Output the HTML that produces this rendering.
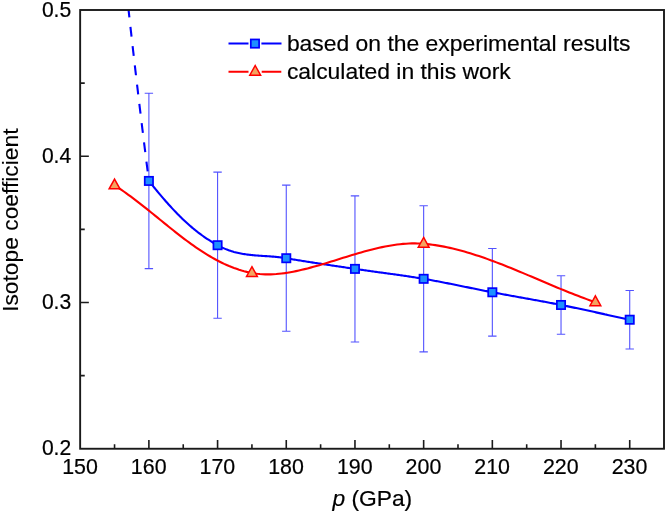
<!DOCTYPE html>
<html><head><meta charset="utf-8"><title>Isotope coefficient</title>
<style>html,body{margin:0;padding:0;background:#fff;width:666px;height:512px;overflow:hidden;font-family:"Liberation Sans",sans-serif}</style></head>
<body>
<svg width="666" height="512" viewBox="0 0 666 512" style="position:absolute;left:0;top:0;will-change:transform">
<rect width="666" height="512" fill="#fff"/>
<g stroke="#0000ff" stroke-opacity="0.68" stroke-width="1.1" fill="none">
<path d="M148.89,93.28V268.60M144.69,93.28H153.09M144.69,268.60H153.09"/>
<path d="M217.58,172.17V318.27M213.38,172.17H221.78M213.38,318.27H221.78"/>
<path d="M286.27,185.17V331.27M282.07,185.17H290.47M282.07,331.27H290.47"/>
<path d="M354.96,195.84V341.94M350.76,195.84H359.16M350.76,341.94H359.16"/>
<path d="M423.65,205.77V351.87M419.45,205.77H427.85M419.45,351.87H427.85"/>
<path d="M492.34,248.44V336.10M488.14,248.44H496.54M488.14,336.10H496.54"/>
<path d="M561.03,275.76V334.20M556.83,275.76H565.23M556.83,334.20H565.23"/>
<path d="M629.72,290.51V348.95M625.52,290.51H633.92M625.52,348.95H633.92"/>
</g>
<path d="M148.89,180.94 L148.52,178.04 L148.15,175.14 L147.78,172.25 L147.41,169.35 L147.05,166.45 L146.68,163.55 L146.32,160.66 L145.95,157.76 L145.59,154.86 L145.23,151.96 L144.87,149.07 L144.50,146.17 L144.15,143.27 L143.79,140.38 L143.43,137.48 L143.07,134.58 L142.72,131.68 L142.36,128.79 L142.01,125.89 L141.65,122.99 L141.30,120.10 L140.95,117.20 L140.60,114.30 L140.25,111.40 L139.90,108.51 L139.55,105.61 L139.21,102.71 L138.86,99.81 L138.51,96.92 L138.17,94.02 L137.83,91.12 L137.48,88.23 L137.14,85.33 L136.80,82.43 L136.46,79.53 L136.12,76.64 L135.78,73.74 L135.45,70.84 L135.11,67.94 L134.78,65.05 L134.44,62.15 L134.11,59.25 L133.78,56.36 L133.44,53.46 L133.11,50.56 L132.78,47.66 L132.45,44.77 L132.13,41.87 L131.80,38.97 L131.47,36.08 L131.15,33.18 L130.82,30.28 L130.50,27.38 L130.18,24.49 L129.85,21.59 L129.53,18.69 L129.21,15.79 L128.89,12.90 L128.58,10.00" stroke="#0000ff" stroke-width="2.1" fill="none" stroke-dasharray="10 9.38" stroke-dashoffset="9.8"/>
<path d="M148.89,180.94 L150.29,182.69 L151.67,184.41 L153.04,186.10 L154.39,187.76 L155.73,189.40 L157.06,191.00 L158.36,192.57 L159.66,194.12 L160.94,195.64 L162.21,197.13 L163.47,198.59 L164.72,200.03 L165.95,201.44 L167.17,202.82 L168.39,204.18 L169.59,205.51 L170.78,206.82 L171.96,208.11 L173.14,209.37 L174.30,210.61 L175.46,211.82 L176.61,213.02 L177.75,214.19 L178.89,215.34 L180.02,216.46 L181.14,217.57 L182.26,218.66 L183.37,219.73 L184.48,220.77 L185.58,221.80 L186.68,222.81 L187.78,223.80 L188.87,224.78 L189.96,225.73 L191.05,226.67 L192.14,227.60 L193.22,228.50 L194.30,229.39 L195.39,230.27 L196.47,231.13 L197.55,231.98 L198.64,232.81 L199.72,233.63 L200.81,234.43 L201.90,235.23 L202.99,236.01 L204.08,236.78 L205.18,237.53 L206.28,238.28 L207.39,239.01 L208.49,239.74 L209.61,240.45 L210.73,241.16 L211.85,241.86 L212.98,242.54 L214.12,243.23 L215.27,243.90 L216.42,244.56 L217.58,245.22 L217.58,245.22 L218.74,245.86 L219.91,246.47 L221.07,247.06 L222.24,247.62 L223.40,248.15 L224.57,248.66 L225.73,249.14 L226.89,249.60 L228.06,250.04 L229.22,250.45 L230.39,250.84 L231.55,251.21 L232.72,251.56 L233.88,251.90 L235.04,252.21 L236.21,252.50 L237.37,252.78 L238.54,253.04 L239.70,253.29 L240.86,253.52 L242.03,253.73 L243.19,253.93 L244.36,254.12 L245.52,254.30 L246.69,254.46 L247.85,254.61 L249.01,254.76 L250.18,254.89 L251.34,255.01 L252.51,255.13 L253.67,255.24 L254.84,255.34 L256.00,255.44 L257.16,255.53 L258.33,255.62 L259.49,255.70 L260.66,255.78 L261.82,255.86 L262.99,255.94 L264.15,256.01 L265.31,256.09 L266.48,256.16 L267.64,256.24 L268.81,256.32 L269.97,256.40 L271.13,256.49 L272.30,256.58 L273.46,256.67 L274.63,256.77 L275.79,256.87 L276.96,256.99 L278.12,257.11 L279.28,257.24 L280.45,257.37 L281.61,257.52 L282.78,257.68 L283.94,257.85 L285.11,258.03 L286.27,258.22 L286.27,258.22 L287.43,258.42 L288.60,258.62 L289.76,258.82 L290.93,259.02 L292.09,259.21 L293.26,259.41 L294.42,259.60 L295.58,259.79 L296.75,259.99 L297.91,260.18 L299.08,260.37 L300.24,260.56 L301.41,260.74 L302.57,260.93 L303.73,261.12 L304.90,261.30 L306.06,261.49 L307.23,261.67 L308.39,261.86 L309.55,262.04 L310.72,262.22 L311.88,262.40 L313.05,262.59 L314.21,262.77 L315.38,262.95 L316.54,263.12 L317.70,263.30 L318.87,263.48 L320.03,263.66 L321.20,263.84 L322.36,264.01 L323.53,264.19 L324.69,264.37 L325.85,264.54 L327.02,264.72 L328.18,264.89 L329.35,265.07 L330.51,265.24 L331.68,265.42 L332.84,265.59 L334.00,265.76 L335.17,265.94 L336.33,266.11 L337.50,266.29 L338.66,266.46 L339.82,266.63 L340.99,266.81 L342.15,266.98 L343.32,267.15 L344.48,267.33 L345.65,267.50 L346.81,267.67 L347.97,267.85 L349.14,268.02 L350.30,268.19 L351.47,268.37 L352.63,268.54 L353.80,268.71 L354.96,268.89 L354.96,268.89 L356.12,269.06 L357.29,269.24 L358.45,269.41 L359.62,269.58 L360.78,269.75 L361.95,269.91 L363.11,270.08 L364.27,270.25 L365.44,270.41 L366.60,270.57 L367.77,270.74 L368.93,270.90 L370.10,271.06 L371.26,271.22 L372.42,271.38 L373.59,271.54 L374.75,271.70 L375.92,271.86 L377.08,272.02 L378.24,272.18 L379.41,272.34 L380.57,272.49 L381.74,272.65 L382.90,272.81 L384.07,272.97 L385.23,273.13 L386.39,273.29 L387.56,273.44 L388.72,273.60 L389.89,273.76 L391.05,273.92 L392.22,274.08 L393.38,274.24 L394.54,274.41 L395.71,274.57 L396.87,274.73 L398.04,274.89 L399.20,275.06 L400.37,275.22 L401.53,275.39 L402.69,275.56 L403.86,275.73 L405.02,275.90 L406.19,276.07 L407.35,276.24 L408.51,276.41 L409.68,276.59 L410.84,276.77 L412.01,276.94 L413.17,277.12 L414.34,277.31 L415.50,277.49 L416.66,277.67 L417.83,277.86 L418.99,278.05 L420.16,278.24 L421.32,278.43 L422.49,278.63 L423.65,278.82 L423.65,278.82 L424.81,279.02 L425.98,279.22 L427.14,279.43 L428.31,279.63 L429.47,279.84 L430.64,280.05 L431.80,280.26 L432.96,280.47 L434.13,280.69 L435.29,280.91 L436.46,281.12 L437.62,281.34 L438.79,281.56 L439.95,281.79 L441.11,282.01 L442.28,282.24 L443.44,282.46 L444.61,282.69 L445.77,282.92 L446.93,283.15 L448.10,283.38 L449.26,283.61 L450.43,283.84 L451.59,284.08 L452.76,284.31 L453.92,284.55 L455.08,284.78 L456.25,285.02 L457.41,285.25 L458.58,285.49 L459.74,285.73 L460.91,285.96 L462.07,286.20 L463.23,286.44 L464.40,286.68 L465.56,286.92 L466.73,287.15 L467.89,287.39 L469.06,287.63 L470.22,287.87 L471.38,288.10 L472.55,288.34 L473.71,288.58 L474.88,288.82 L476.04,289.05 L477.20,289.29 L478.37,289.52 L479.53,289.75 L480.70,289.99 L481.86,290.22 L483.03,290.45 L484.19,290.68 L485.35,290.91 L486.52,291.14 L487.68,291.37 L488.85,291.59 L490.01,291.82 L491.18,292.04 L492.34,292.27 L492.34,292.27 L493.50,292.49 L494.67,292.71 L495.83,292.93 L497.00,293.14 L498.16,293.36 L499.33,293.58 L500.49,293.79 L501.65,294.01 L502.82,294.22 L503.98,294.44 L505.15,294.65 L506.31,294.86 L507.48,295.08 L508.64,295.29 L509.80,295.50 L510.97,295.71 L512.13,295.92 L513.30,296.13 L514.46,296.34 L515.62,296.55 L516.79,296.76 L517.95,296.97 L519.12,297.18 L520.28,297.39 L521.45,297.60 L522.61,297.81 L523.77,298.01 L524.94,298.22 L526.10,298.43 L527.27,298.64 L528.43,298.85 L529.60,299.06 L530.76,299.27 L531.92,299.48 L533.09,299.69 L534.25,299.91 L535.42,300.12 L536.58,300.33 L537.75,300.54 L538.91,300.76 L540.07,300.97 L541.24,301.19 L542.40,301.40 L543.57,301.62 L544.73,301.83 L545.89,302.05 L547.06,302.27 L548.22,302.49 L549.39,302.71 L550.55,302.93 L551.72,303.15 L552.88,303.38 L554.04,303.60 L555.21,303.83 L556.37,304.06 L557.54,304.28 L558.70,304.51 L559.87,304.74 L561.03,304.98 L561.03,304.98 L562.19,305.21 L563.36,305.44 L564.52,305.68 L565.69,305.92 L566.85,306.15 L568.02,306.39 L569.18,306.63 L570.34,306.87 L571.51,307.11 L572.67,307.36 L573.84,307.60 L575.00,307.85 L576.17,308.09 L577.33,308.34 L578.49,308.58 L579.66,308.83 L580.82,309.08 L581.99,309.33 L583.15,309.58 L584.31,309.83 L585.48,310.08 L586.64,310.33 L587.81,310.58 L588.97,310.83 L590.14,311.08 L591.30,311.34 L592.46,311.59 L593.63,311.84 L594.79,312.10 L595.96,312.35 L597.12,312.61 L598.29,312.86 L599.45,313.12 L600.61,313.37 L601.78,313.63 L602.94,313.88 L604.11,314.14 L605.27,314.40 L606.44,314.65 L607.60,314.91 L608.76,315.16 L609.93,315.42 L611.09,315.68 L612.26,315.93 L613.42,316.19 L614.58,316.44 L615.75,316.70 L616.91,316.95 L618.08,317.21 L619.24,317.46 L620.41,317.71 L621.57,317.97 L622.73,318.22 L623.90,318.47 L625.06,318.73 L626.23,318.98 L627.39,319.23 L628.56,319.48 L629.72,319.73" stroke="#0000ff" stroke-width="2.1" fill="none"/>
<path d="M114.55,185.32 L116.87,186.82 L119.18,188.36 L121.49,189.92 L123.79,191.51 L126.07,193.13 L128.36,194.78 L130.63,196.45 L132.90,198.13 L135.16,199.84 L137.42,201.57 L139.67,203.32 L141.92,205.07 L144.17,206.85 L146.41,208.63 L148.64,210.42 L150.88,212.22 L153.11,214.03 L155.35,215.84 L157.58,217.66 L159.81,219.47 L162.04,221.29 L164.27,223.10 L166.51,224.91 L168.74,226.71 L170.98,228.51 L173.22,230.30 L175.46,232.07 L177.71,233.84 L179.96,235.59 L182.22,237.32 L184.48,239.04 L186.74,240.73 L189.02,242.41 L191.30,244.06 L193.58,245.69 L195.88,247.29 L198.18,248.86 L200.49,250.41 L202.81,251.92 L205.14,253.40 L207.48,254.85 L209.83,256.26 L212.20,257.63 L214.57,258.96 L216.96,260.25 L219.35,261.49 L221.77,262.69 L224.19,263.85 L226.63,264.95 L229.09,266.01 L231.56,267.01 L234.04,267.97 L236.54,268.86 L239.06,269.70 L241.60,270.48 L244.15,271.20 L246.72,271.86 L249.32,272.45 L251.93,272.98 L251.93,272.98 L254.55,273.43 L257.20,273.79 L259.87,274.06 L262.56,274.25 L265.26,274.36 L267.98,274.40 L270.72,274.36 L273.47,274.24 L276.24,274.06 L279.02,273.81 L281.82,273.50 L284.64,273.14 L287.46,272.71 L290.30,272.23 L293.16,271.70 L296.02,271.12 L298.90,270.50 L301.79,269.84 L304.68,269.14 L307.59,268.40 L310.51,267.63 L313.44,266.83 L316.38,266.01 L319.32,265.16 L322.27,264.29 L325.23,263.40 L328.20,262.50 L331.17,261.58 L334.15,260.66 L337.13,259.73 L340.12,258.80 L343.11,257.87 L346.11,256.94 L349.11,256.02 L352.11,255.11 L355.11,254.21 L358.12,253.32 L361.13,252.46 L364.13,251.61 L367.14,250.79 L370.15,250.00 L373.16,249.23 L376.16,248.50 L379.16,247.81 L382.16,247.15 L385.16,246.54 L388.16,245.97 L391.15,245.45 L394.13,244.98 L397.12,244.57 L400.09,244.21 L403.06,243.91 L406.03,243.68 L408.98,243.51 L411.93,243.41 L414.88,243.38 L417.81,243.43 L420.73,243.55 L423.65,243.76 L423.65,243.76 L426.56,244.03 L429.47,244.35 L432.38,244.72 L435.29,245.14 L438.20,245.60 L441.11,246.11 L444.02,246.65 L446.93,247.24 L449.85,247.87 L452.76,248.54 L455.67,249.25 L458.58,249.99 L461.49,250.77 L464.40,251.58 L467.31,252.42 L470.22,253.29 L473.13,254.20 L476.04,255.13 L478.95,256.09 L481.86,257.08 L484.77,258.09 L487.68,259.12 L490.59,260.18 L493.50,261.26 L496.41,262.36 L499.33,263.47 L502.24,264.60 L505.15,265.75 L508.06,266.91 L510.97,268.09 L513.88,269.28 L516.79,270.48 L519.70,271.69 L522.61,272.90 L525.52,274.13 L528.43,275.35 L531.34,276.59 L534.25,277.82 L537.16,279.06 L540.07,280.30 L542.98,281.54 L545.89,282.77 L548.81,284.00 L551.72,285.23 L554.63,286.45 L557.54,287.66 L560.45,288.87 L563.36,290.06 L566.27,291.25 L569.18,292.42 L572.09,293.58 L575.00,294.72 L577.91,295.85 L580.82,296.96 L583.73,298.05 L586.64,299.12 L589.55,300.17 L592.46,301.20 L595.38,302.20" stroke="#ff0000" stroke-width="2.1" fill="none"/>
<rect x="144.74" y="176.79" width="8.3" height="8.3" fill="#1e90ff" stroke="#0000ff" stroke-width="1.7"/>
<rect x="213.43" y="241.07" width="8.3" height="8.3" fill="#1e90ff" stroke="#0000ff" stroke-width="1.7"/>
<rect x="282.12" y="254.07" width="8.3" height="8.3" fill="#1e90ff" stroke="#0000ff" stroke-width="1.7"/>
<rect x="350.81" y="264.74" width="8.3" height="8.3" fill="#1e90ff" stroke="#0000ff" stroke-width="1.7"/>
<rect x="419.50" y="274.67" width="8.3" height="8.3" fill="#1e90ff" stroke="#0000ff" stroke-width="1.7"/>
<rect x="488.19" y="288.12" width="8.3" height="8.3" fill="#1e90ff" stroke="#0000ff" stroke-width="1.7"/>
<rect x="556.88" y="300.83" width="8.3" height="8.3" fill="#1e90ff" stroke="#0000ff" stroke-width="1.7"/>
<rect x="625.57" y="315.58" width="8.3" height="8.3" fill="#1e90ff" stroke="#0000ff" stroke-width="1.7"/>
<path d="M114.55,179.02L119.95,188.77L109.14,188.77Z" fill="#f4a460" stroke="#ff0000" stroke-width="1.5" stroke-linejoin="miter"/>
<path d="M251.93,266.68L257.32,276.43L246.53,276.43Z" fill="#f4a460" stroke="#ff0000" stroke-width="1.5" stroke-linejoin="miter"/>
<path d="M423.65,237.46L429.05,247.21L418.25,247.21Z" fill="#f4a460" stroke="#ff0000" stroke-width="1.5" stroke-linejoin="miter"/>
<path d="M595.38,295.90L600.77,305.65L589.98,305.65Z" fill="#f4a460" stroke="#ff0000" stroke-width="1.5" stroke-linejoin="miter"/>
<g stroke="#1a1a1a" stroke-width="1.9" fill="none">
<rect x="80.15" y="10.0" width="583.85" height="438.75"/>
<path d="M114.55,448.75v-4.6M148.89,448.75v-8.7M183.24,448.75v-4.6M217.58,448.75v-8.7M251.93,448.75v-4.6M286.27,448.75v-8.7M320.62,448.75v-4.6M354.96,448.75v-8.7M389.31,448.75v-4.6M423.65,448.75v-8.7M457.99,448.75v-4.6M492.34,448.75v-8.7M526.69,448.75v-4.6M561.03,448.75v-8.7M595.38,448.75v-4.6M629.72,448.75v-8.7M80.15,375.62h4.6M80.15,302.50h8.7M80.15,229.38h4.6M80.15,156.25h8.7M80.15,83.13h4.6" stroke-width="1.6"/>
</g>
<g font-family="'Liberation Sans', sans-serif" fill="#000" stroke="#000" stroke-width="0.2">
<text transform="translate(80.00,473.9) scale(1,1.03)" font-size="21.4" text-anchor="middle">150</text>
<text transform="translate(148.69,473.9) scale(1,1.03)" font-size="21.4" text-anchor="middle">160</text>
<text transform="translate(217.38,473.9) scale(1,1.03)" font-size="21.4" text-anchor="middle">170</text>
<text transform="translate(286.07,473.9) scale(1,1.03)" font-size="21.4" text-anchor="middle">180</text>
<text transform="translate(354.76,473.9) scale(1,1.03)" font-size="21.4" text-anchor="middle">190</text>
<text transform="translate(423.45,473.9) scale(1,1.03)" font-size="21.4" text-anchor="middle">200</text>
<text transform="translate(492.14,473.9) scale(1,1.03)" font-size="21.4" text-anchor="middle">210</text>
<text transform="translate(560.83,473.9) scale(1,1.03)" font-size="21.4" text-anchor="middle">220</text>
<text transform="translate(629.52,473.9) scale(1,1.03)" font-size="21.4" text-anchor="middle">230</text>
<text transform="translate(71.2,455.45) scale(1,1.03)" font-size="21.1" text-anchor="end">0.2</text>
<text transform="translate(71.2,309.20) scale(1,1.03)" font-size="21.1" text-anchor="end">0.3</text>
<text transform="translate(71.2,162.95) scale(1,1.03)" font-size="21.1" text-anchor="end">0.4</text>
<text transform="translate(71.2,16.70) scale(1,1.03)" font-size="21.1" text-anchor="end">0.5</text>
<text x="372.3" y="505.5" font-size="22.8" text-anchor="middle"><tspan font-style="italic">p</tspan> (GPa)</text>
<text transform="translate(18.1,220.2) rotate(-90)" font-size="22.8" stroke-width="0.1" text-anchor="middle">Isotope coefficient</text>
<text x="286.9" y="50.9" font-size="22.9">based on the experimental results</text>
<text x="286.9" y="79.1" font-size="22.9">calculated in this work</text>
</g>
<path d="M228.5,43.6H248.5M261.4,43.6H281.5" stroke="#0000ff" stroke-width="2"/>
<rect x="250.80" y="39.45" width="8.3" height="8.3" fill="#1e90ff" stroke="#0000ff" stroke-width="1.7"/>
<path d="M228.5,71.8H248.5M261.7,71.8H281.3" stroke="#ff0000" stroke-width="2"/>
<path d="M255.20,65.50L260.60,75.25L249.80,75.25Z" fill="#f4a460" stroke="#ff0000" stroke-width="1.5" stroke-linejoin="miter"/>
</svg>
</body></html>
